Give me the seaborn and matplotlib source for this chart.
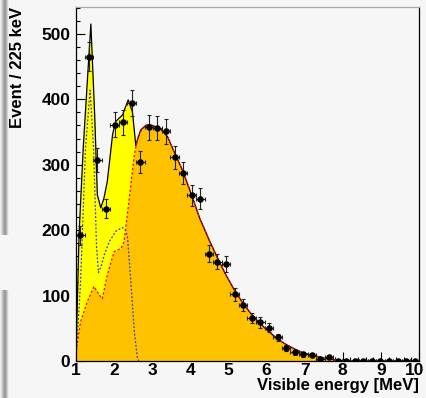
import matplotlib
matplotlib.use("Agg")
import matplotlib.pyplot as plt
import matplotlib.transforms as mtransforms
import numpy as np
import pandas as pd
import seaborn as sns

# Measured spectrum: bin centres (225 keV bins), counts, errors
bin_centers = [1.1125, 1.3375, 1.5625, 1.7875, 2.0125, 2.2375, 2.4625, 2.6875,
               2.9125, 3.1375, 3.3625, 3.5875, 3.8125, 4.0375, 4.2625, 4.4875,
               4.7125, 4.9375, 5.1625, 5.3875, 5.6125, 5.8375, 6.0625, 6.2875,
               6.5125, 6.7375, 6.9625, 7.1875, 7.4125, 7.6375, 7.8625, 8.0875,
               8.3125, 8.5375, 8.7625, 8.9875, 9.2125, 9.4375, 9.6625, 9.8875]
counts = [192, 465, 307, 233, 361, 365, 394, 304, 357, 356, 351, 311, 287, 253,
          248, 164, 152, 148, 102, 85, 66, 59, 51, 36, 20, 13, 10, 9, 3, 6,
          0, 0, 0, 0, 0, 0, 0, 0, 0, 0]
count_err = [14, 22, 18, 15, 19, 19, 20, 17, 19, 19, 19, 18, 17, 16, 16, 13,
             12, 12, 10, 9, 8, 8, 7, 6, 4.5, 3.6, 3.2, 3, 1.7, 2.4,
             0, 0, 0, 0, 0, 0, 0, 0, 0, 0]
half_bin = 0.1125

# Model curves
tail_energy = [2.88, 3.0, 3.21, 3.4, 3.55, 3.79, 4.05, 4.24, 4.47, 4.7, 4.92,
               5.14, 5.36, 5.58, 5.8, 6.02, 6.24, 6.46, 6.68, 6.89, 7.11, 7.33,
               7.55, 7.77, 8.0, 8.2, 10.0]
tail_counts = [361, 360, 355, 343, 323, 292, 251, 219, 188, 159, 133,
               110, 90, 73, 59, 47, 36, 27, 20, 14, 10, 7,
               4, 2, 0.5, 0, 0]

total_low_energy = [1.0, 1.08, 1.19, 1.30, 1.39, 1.49, 1.56, 1.65, 1.73, 1.82,
                    1.96, 2.04, 2.22, 2.37, 2.48, 2.57, 2.62, 2.70, 2.83]
total_low_counts = [8, 193, 326, 430, 515, 376, 254, 234, 248, 274,
                    346, 366, 376, 399, 381, 329, 340, 353, 360]

reactor_low_energy = [1.0, 1.12, 1.30, 1.47, 1.61, 1.69, 1.82, 2.0, 2.18,
                      2.26, 2.39, 2.53, 2.61, 2.74]
reactor_low_counts = [14, 60, 91, 114, 101, 95, 131, 167, 172,
                      182, 244, 315, 338, 356]

geo_energy = [1.0, 1.12, 1.25, 1.37, 1.46, 1.54, 1.59, 1.66, 1.74, 1.87,
              2.04, 2.22, 2.30, 2.35, 2.44, 2.53, 2.61, 2.65]
geo_counts = [0, 121, 326, 414, 326, 173, 135, 145, 162, 182,
              198, 204, 200, 190, 121, 45, 5, 0]

total = pd.DataFrame({"energy": total_low_energy + tail_energy,
                      "counts": total_low_counts + tail_counts})
reactor = pd.DataFrame({"energy": reactor_low_energy + tail_energy,
                        "counts": reactor_low_counts + tail_counts})
geo = pd.DataFrame({"energy": geo_energy, "counts": geo_counts})
data = pd.DataFrame({"energy": bin_centers, "counts": counts, "err": count_err})

sns.set_theme(style="ticks")
plt.rcParams["font.family"] = ["Liberation Sans", "DejaVu Sans"]
plt.rcParams["font.weight"] = "bold"
plt.rcParams["text.color"] = "black"
plt.rcParams["axes.labelcolor"] = "black"

bg = "#f6f6f6"
fig = plt.figure(figsize=(4.27, 3.98), dpi=100, facecolor=bg)

# grey window-edge shadow on the far left of the screenshot
shade = np.array([[0.93, 0.85, 0.74, 0.64, 0.6, 0.66, 0.8, 0.93]])
for y0, h in [(163 / 398, 235 / 398), (0, 108 / 398)]:
    sax = fig.add_axes([0, y0, 9 / 427, h])
    sax.imshow(shade, cmap="gray", vmin=0, vmax=1, aspect="auto",
               interpolation="bilinear")
    sax.axis("off")

ax = fig.add_axes([76 / 427, 37 / 398, 343 / 427, 354 / 398], facecolor=bg)

ax.fill_between(total["energy"], total["counts"], color="#ffff00", lw=0)
ax.fill_between(reactor["energy"], reactor["counts"], color="#ffc200", lw=0)

sns.lineplot(data=total, x="energy", y="counts", ax=ax, color="black",
             lw=0.9, sort=False)
sns.lineplot(data=reactor, x="energy", y="counts", ax=ax, color="red",
             lw=0.9, sort=False)
ax.lines[-1].set_linestyle((0, (2, 1.5)))
sns.lineplot(data=geo, x="energy", y="counts", ax=ax, color="#3a3ad0",
             lw=0.9, sort=False)
ax.lines[-1].set_linestyle((0, (1.5, 1.5)))

ax.errorbar(data["energy"], data["counts"], yerr=data["err"], xerr=half_bin,
            fmt="none", ecolor="#222222", elinewidth=0.8, capsize=1.5,
            capthick=0.8)
sns.scatterplot(data=data, x="energy", y="counts", ax=ax, color="black",
                s=22, edgecolor="black", linewidth=0, zorder=5)

ax.set_xlim(1, 10)
ax.set_ylim(0, 541)
ax.set_xticks(range(1, 11))
ax.set_xticks(np.arange(1, 10.01, 0.2), minor=True)
ax.set_yticks(range(0, 501, 100))
ax.set_yticks(range(0, 541, 20), minor=True)
ax.tick_params(which="both", direction="in", top=False, right=False,
               labelsize=12.5, colors="black")
ax.tick_params(which="major", length=6.5, width=0.8)
ax.tick_params(which="minor", length=3.2, width=0.8)
ax.tick_params(axis="y", pad=4)
ax.tick_params(axis="x", pad=1.5)
for lab in ax.get_xticklabels() + ax.get_yticklabels():
    lab.set_fontweight("bold")

# keep the "10" label inside the picture
last = ax.get_xticklabels()[-1]
last.set_transform(last.get_transform() +
                   mtransforms.ScaledTranslation(-4 / 100, 0, fig.dpi_scale_trans))

for side in ["left", "bottom", "right"]:
    ax.spines[side].set_color("black")
    ax.spines[side].set_linewidth(0.9)
ax.spines["top"].set_color("#aaaaaa")
ax.spines["top"].set_linewidth(0.9)

ax.set_xlabel("Visible energy [MeV]", fontsize=12, fontweight="bold",
              ha="right", x=1.0, labelpad=0, color="black")
ax.set_ylabel("Event / 225 keV", fontsize=12, fontweight="bold",
              ha="right", y=1.0, labelpad=12, color="black")

fig.savefig("out.png", dpi=100, facecolor=bg)
